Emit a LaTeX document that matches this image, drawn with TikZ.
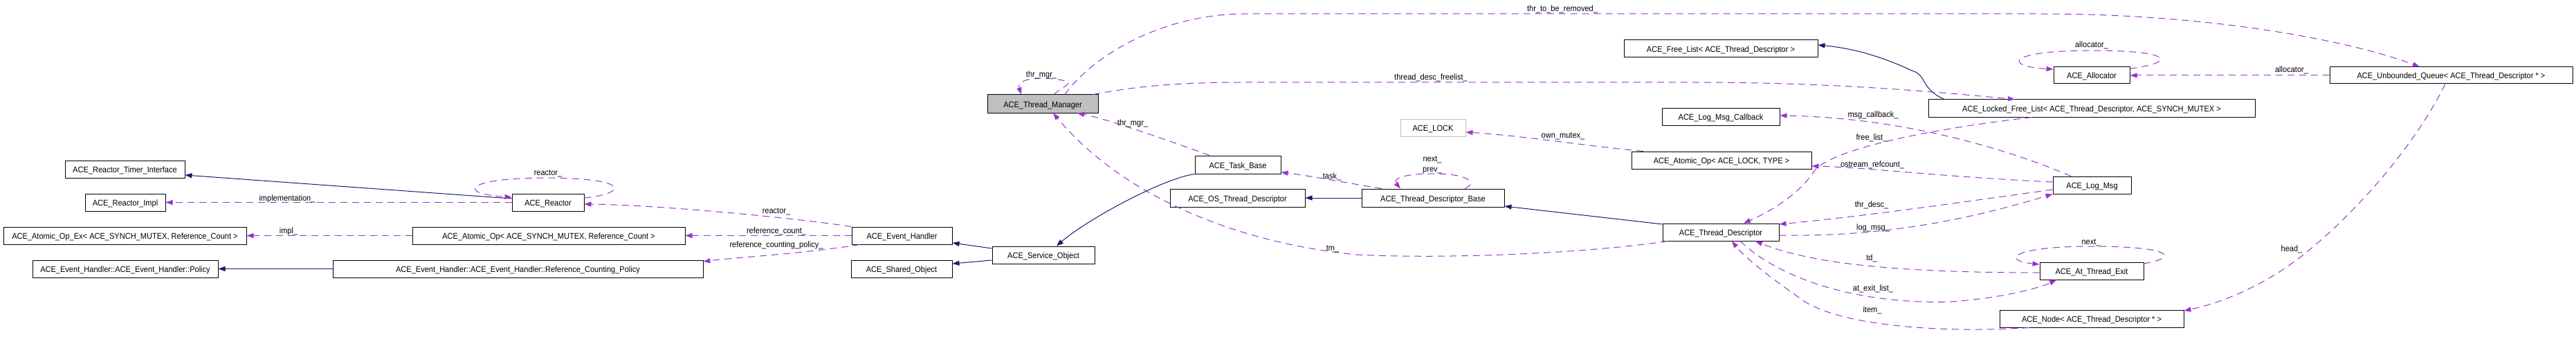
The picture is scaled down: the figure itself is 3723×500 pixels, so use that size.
\documentclass[tikz,border=0pt]{standalone}
\usepackage{fontspec}
\setmainfont{Liberation Sans}[FakeStretch=0.92]
\usetikzlibrary{arrows.meta}
\definecolor{usecol}{RGB}{154,50,205}
\definecolor{inhcol}{RGB}{25,25,112}
\definecolor{mainfill}{RGB}{191,191,191}
\begin{document}
\begin{tikzpicture}[x=1pt,y=-1pt,
  every node/.style={font=\fontsize{12}{14}\selectfont, text height=10pt, text depth=0pt},
  box/.style={draw=black, line width=1pt, fill=white, minimum height=25, inner sep=0pt},
  lbl/.style={inner sep=0pt},
  inh/.style={draw=inhcol, line width=1pt, -{Triangle[length=10pt,width=7pt]}},
  use/.style={draw=usecol, line width=1pt, dash pattern=on 10pt off 7pt, -{Triangle[length=10pt,width=7pt]}}
]
\useasboundingbox (0,0) rectangle (3723,500);
% nodes
\node[box, minimum width=173] (RTI) at (180.5,244.5) {ACE\_Reactor\_Timer\_Interface};
\node[box, minimum width=116] (RImpl) at (181,292.5) {ACE\_Reactor\_Impl};
\node[box, minimum width=351] (AOpEx) at (180.5,340.5) {ACE\_Atomic\_Op\_Ex< ACE\_SYNCH\_MUTEX, Reference\_Count >};
\node[box, minimum width=268] (Policy) at (181,388.5) {ACE\_Event\_Handler::ACE\_Event\_Handler::Policy};
\node[box, minimum width=104] (Reactor) at (792,292.5) {ACE\_Reactor};
\node[box, minimum width=394] (AOpMutex) at (793,340.5) {ACE\_Atomic\_Op< ACE\_SYNCH\_MUTEX, Reference\_Count >};
\node[box, minimum width=535] (RCP) at (748.5,388.5) {ACE\_Event\_Handler::ACE\_Event\_Handler::Reference\_Counting\_Policy};
\node[box, minimum width=145] (EH) at (1303.5,340.5) {ACE\_Event\_Handler};
\node[box, minimum width=146] (SO) at (1303,388.5) {ACE\_Shared\_Object};
\node[box, minimum width=148] (SvcO) at (1508,368.5) {ACE\_Service\_Object};
\node[box, minimum width=160, minimum height=26, fill=mainfill] (TM) at (1507,150) {ACE\_Thread\_Manager};
\node[box, minimum width=124, minimum height=26] (TB) at (1789,238) {ACE\_Task\_Base};
\node[box, minimum width=195, minimum height=26] (OSTD) at (1788.5,286) {ACE\_OS\_Thread\_Descriptor};
\node[box, minimum width=206, minimum height=26] (TDB) at (2071,286) {ACE\_Thread\_Descriptor\_Base};
\node[box, minimum width=94, draw=mainfill] (LOCK) at (2071,184.5) {ACE\_LOCK};
\node[box, minimum width=280] (FL) at (2487,70.5) {ACE\_Free\_List< ACE\_Thread\_Descriptor >};
\node[box, minimum width=170] (LMC) at (2487,168.5) {ACE\_Log\_Msg\_Callback};
\node[box, minimum width=260] (AOpLock) at (2488,231.5) {ACE\_Atomic\_Op< ACE\_LOCK, TYPE >};
\node[box, minimum width=168] (TD) at (2487,335.5) {ACE\_Thread\_Descriptor};
\node[box, minimum width=472] (LFL) at (3023,156.5) {ACE\_Locked\_Free\_List< ACE\_Thread\_Descriptor, ACE\_SYNCH\_MUTEX >};
\node[box, minimum width=110, minimum height=24] (Alloc) at (3023,109) {ACE\_Allocator};
\node[box, minimum width=113] (LM) at (3023.5,267.5) {ACE\_Log\_Msg};
\node[box, minimum width=150] (ATE) at (3023,391.5) {ACE\_At\_Thread\_Exit};
\node[box, minimum width=266] (Node) at (3023,460.5) {ACE\_Node< ACE\_Thread\_Descriptor * >};
\node[box, minimum width=351, minimum height=24] (UQ) at (3542.5,109) {ACE\_Unbounded\_Queue< ACE\_Thread\_Descriptor * >};
% inheritance edges
\draw[inh] (Reactor.west |- 0,287) -- (RTI.east |- 0,253);
\draw[inh] (RCP.west) -- (Policy.east);
\draw[inh] (SvcO.west |- 0,359) -- (EH.east |- 0,351);
\draw[inh] (SvcO.west |- 0,376) -- (SO.east |- 0,381);
\draw[inh] (TB.south west) .. controls (1680,258) and (1570,318) .. (SvcO.north -| 1527,0);
\draw[inh] (TDB.west) -- (OSTD.east);
\draw[inh] (TD.west |- 0,324) -- (TDB.east |- 0,298);
\draw[inh] (LFL.north -| 2810,0) .. controls (2775,128) and (2785,108) .. (2763,102) .. controls (2720,82) and (2680,70) .. (FL.east |- 0,65);
% usage edges
\draw[use] (Reactor.west) -- (RImpl.east);
\node[lbl] (l1) at (415,285) {implementation\_};
\draw[use] (Reactor.east |- 0,286) .. controls (905,280) and (915,258) .. (792,257) .. controls (670,257) and (660,280) .. (Reactor.west |- 0,285);
\node[lbl] (l2) at (792,248) {reactor\_};
\draw[use] (EH.north west) .. controls (1150,315) and (950,296) .. (Reactor.east |- 0,295);
\node[lbl] (l3) at (1122,303) {reactor\_};
\draw[use] (EH.west) -- (AOpMutex.east);
\node[lbl] (l4) at (1122,332) {reference\_count\_};
\draw[use] (EH.south -| 1243,0) .. controls (1150,368) and (1060,372) .. (RCP.east |- 0,378);
\node[lbl] (l5) at (1122,352) {reference\_counting\_policy\_};
\draw[use] (AOpMutex.west) -- (AOpEx.east);
\node[lbl] (l6) at (417,332) {impl\_};
\draw[use] (TB.north -| 1748,0) .. controls (1680,200) and (1600,172) .. (TM.south -| 1557,0);
\node[lbl] (l7) at (1637,177) {thr\_mgr\_};
\draw[use] (TD.south -| 2410,0) .. controls (2300,365) and (2100,375) .. (1960,368) .. controls (1780,350) and (1620,280) .. (TM.south -| 1522,0);
\node[lbl] (l8) at (1926,357) {tm\_};
\draw[use] (TM.north -| 1523,0) .. controls (1535,126) and (1552,120) .. (1540,117) .. controls (1510,110) and (1468,112) .. (TM.north -| 1476,0);
\node[lbl] (l9) at (1505,107) {thr\_mgr\_};
\draw[use] (TM.north -| 1539,0) .. controls (1580,80) and (1680,20) .. (1800,20) -- (2950,20) .. controls (3200,20) and (3400,60) .. (UQ.north -| 3497,0);
\node[lbl] (l10) at (2258,12) {thr\_to\_be\_removed\_};
\draw[use] (TM.north -| 1580,0) .. controls (1640,125) and (1700,119) .. (1800,119) -- (2450,119) .. controls (2650,119) and (2800,133) .. (LFL.north -| 2912,0);
\node[lbl] (l11) at (2068,111) {thread\_desc\_freelist\_};
\draw[use] (Alloc.east |- 0,99) .. controls (3140,92) and (3150,73) .. (3023,73) .. controls (2900,73) and (2895,96) .. (Alloc.west |- 0,100);
\node[lbl] (l12) at (3023,64) {allocator\_};
\draw[use] (UQ.west) -- (Alloc.east);
\node[lbl] (l13) at (3312,100) {allocator\_};
\draw[use] (UQ.south -| 3534,0) .. controls (3480,230) and (3380,330) .. (3320,375) .. controls (3260,420) and (3200,440) .. (Node.east |- 0,449);
\node[lbl] (l14) at (3312,358) {head\_};
\draw[use] (TDB.north -| 2117,0) .. controls (2135,265) and (2125,251) .. (2070,251) .. controls (2030,251) and (2012,258) .. (TDB.north -| 2024,0);
\node[lbl] (l15) at (2070,228) {next\_};
\node[lbl] (l16) at (2070,243) {prev\_};
\draw[use] (TDB.north -| 1997,0) .. controls (1950,265) and (1900,255) .. (TB.east |- 0,249);
\node[lbl] (l17) at (1925,253) {task\_};
\draw[use] (AOpLock.north -| 2375,0) .. controls (2300,212) and (2200,196) .. (LOCK.east |- 0,191);
\node[lbl] (l18) at (2259,194) {own\_mutex\_};
\draw[use] (LM.north -| 2993,0) .. controls (2900,215) and (2750,170) .. (LMC.east |- 0,167);
\node[lbl] (l19) at (2707,164) {msg\_callback\_};
\draw[use] (LFL.south -| 2937,0) .. controls (2800,185) and (2640,215) .. (2620,250) .. controls (2600,280) and (2560,305) .. (TD.north -| 2520,0);
\node[lbl] (l20) at (2705,197) {free\_list\_};
\draw[use] (LM.west |- 0,263) .. controls (2800,255) and (2700,242) .. (AOpLock.east |- 0,240);
\node[lbl] (l21) at (2706,236) {ostream\_refcount\_};
\draw[use] (LM.west |- 0,274) .. controls (2850,290) and (2700,312) .. (TD.east |- 0,324);
\node[lbl] (l22) at (2705,294) {thr\_desc\_};
\draw[use] (TD.east |- 0,340) .. controls (2700,342) and (2820,325) .. (LM.south west);
\node[lbl] (l23) at (2707,327) {log\_msg\_};
\draw[use] (ATE.west |- 0,394) .. controls (2750,394) and (2620,382) .. (TD.south -| 2537,0);
\node[lbl] (l24) at (2705,371) {td\_};
\draw[use] (TD.south -| 2515,0) .. controls (2580,410) and (2700,440) .. (2820,436) .. controls (2900,430) and (2950,415) .. (ATE.south -| 2972,0);
\node[lbl] (l25) at (2707,415) {at\_exit\_list\_};
\draw[use] (Node.south -| 2933,0) .. controls (2800,482) and (2650,470) .. (2600,430) .. controls (2550,395) and (2520,370) .. (TD.south -| 2503,0);
\node[lbl] (l26) at (2706,446) {item\_};
\draw[use] (ATE.east |- 0,381) .. controls (3150,372) and (3140,356) .. (3022,356) .. controls (2910,356) and (2890,376) .. (ATE.west |- 0,382);
\node[lbl] (l27) at (3022,348) {next\_};
\end{tikzpicture}
\end{document}
